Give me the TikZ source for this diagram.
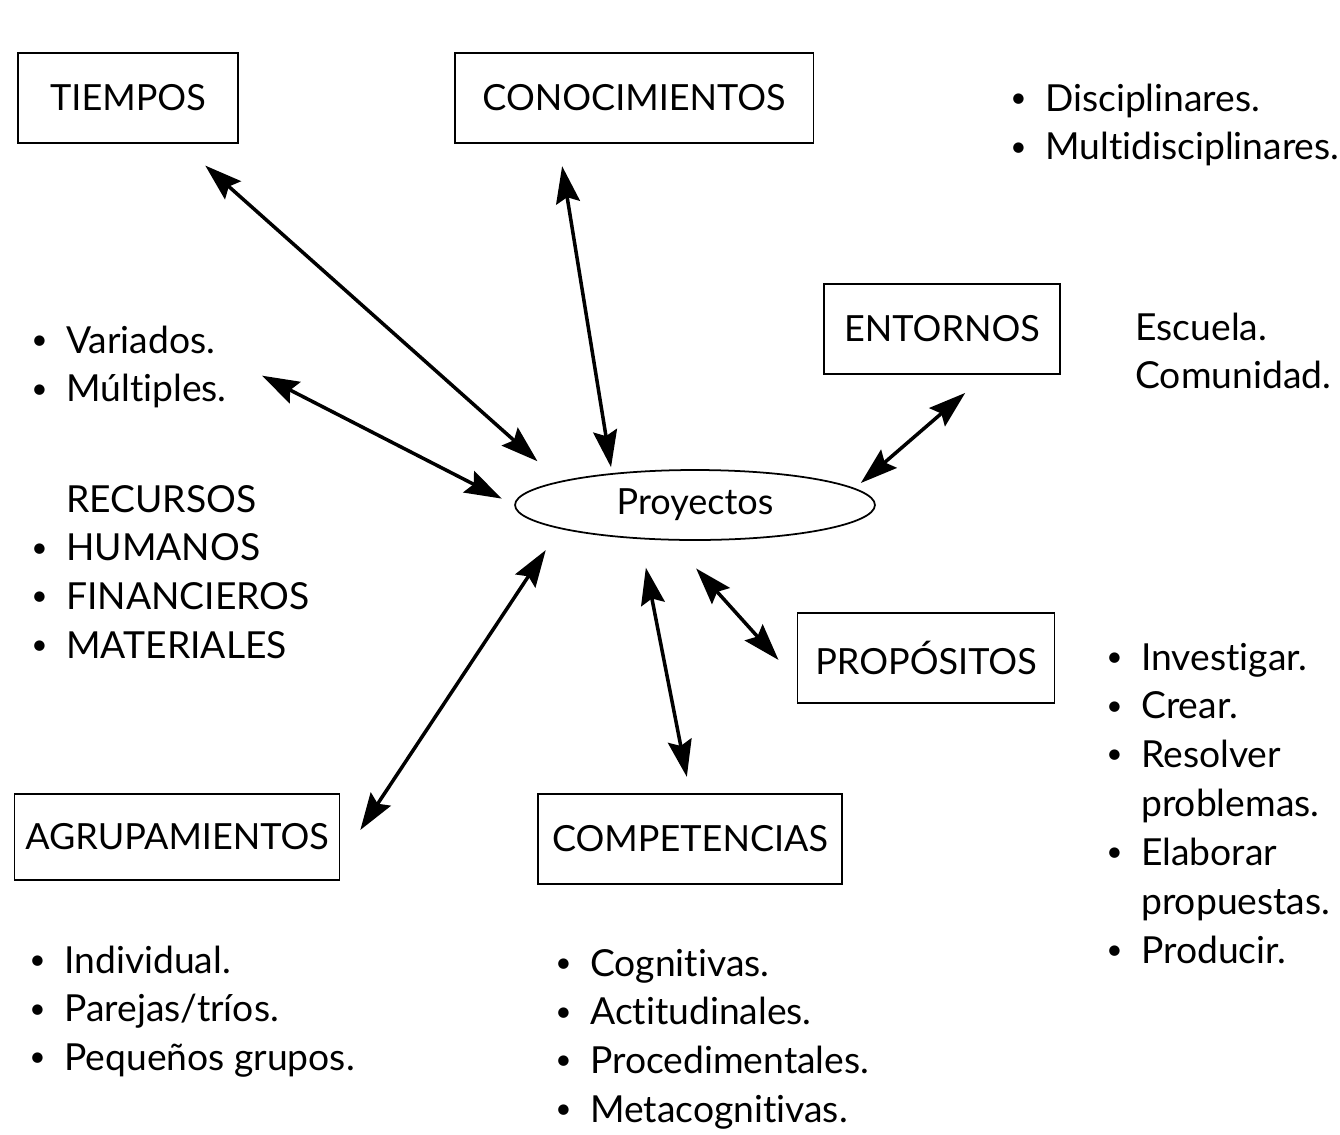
\documentclass[tikz,border=0pt]{standalone}
\usepackage{fontspec}
\setmainfont{Lato}[Ligatures=NoCommon]
\usetikzlibrary{arrows.meta,shapes.geometric}
\newcommand{\punto}{\raisebox{0.1em}{\fontsize{16}{16}\selectfont\textbullet}}

\begin{document}
\begin{tikzpicture}[x=0.02cm,y=-0.02cm,
  font=\fontsize{21.2}{27.8}\selectfont,
  caja/.style={draw,line width=1.1pt,minimum height=1.8cm,inner sep=0pt,font=\fontsize{20.5}{24}\selectfont},
  lista/.style={anchor=base west,inner sep=0pt},
  punta/.tip={Stealth[length=0.74cm,width=0.48cm,inset=0.11cm]},
  enlace/.style={punta-punta,line width=2pt}]
\useasboundingbox (0,0) rectangle (1340,1134);

\node[caja,minimum width=4.4cm] (tiempos) at (128,98) {TIEMPOS};
\node[caja,minimum width=7.18cm] (conoc) at (634,98) {CONOCIMIENTOS};
\node[caja,minimum width=4.72cm] (entornos) at (942,329) {ENTORNOS};
\node[caja,minimum width=5.14cm] (propositos) at (926,658) {PROPÓSITOS};
\node[caja,minimum width=6.08cm] (competencias) at (690,839) {COMPETENCIAS};
\node[caja,minimum width=6.5cm,minimum height=1.72cm] (agrup) at (177,837) {AGRUPAMIENTOS};
\node[draw,ellipse,line width=1pt,minimum width=7.2cm,minimum height=1.4cm,inner sep=0pt,font=\fontsize{20.5}{24}\selectfont] (proy) at (695,505) {Proyectos};

\node[lista] (disc) at (1010,111) {\begin{tabular}[t]{@{}l@{\hspace{0.5em}}l@{}}
  \punto & Disciplinares.\\
  \punto & Multidisciplinares.
\end{tabular}};
\node[lista] (variados) at (31,353) {\begin{tabular}[t]{@{}l@{\hspace{0.5em}}l@{}}
  \punto & Variados.\\
  \punto & Múltiples.
\end{tabular}};
\node[lista] (escuela) at (1135,340) {\begin{tabular}[t]{@{}l@{}}
  Escuela.\\
  Comunidad.
\end{tabular}};
\node[lista] (recursos) at (31,512) {\begin{tabular}[t]{@{}l@{\hspace{0.5em}}l@{}}
  & RECURSOS\\
  \punto & HUMANOS\\
  \punto & FINANCIEROS\\
  \punto & MATERIALES
\end{tabular}};
\node[lista] (objetivos) at (1106,670) {\begin{tabular}[t]{@{}l@{\hspace{0.5em}}l@{}}
  \punto & Investigar.\\
  \punto & Crear.\\
  \punto & Resolver\\
  & problemas.\\
  \punto & Elaborar\\
  & propuestas.\\
  \punto & Producir.
\end{tabular}};
\node[lista] (grupos) at (29,973) {\begin{tabular}[t]{@{}l@{\hspace{0.5em}}l@{}}
  \punto & Individual.\\
  \punto & Parejas/tríos.\\
  \punto & Pequeños grupos.
\end{tabular}};
\node[lista] (saberes) at (555,976) {\begin{tabular}[t]{@{}l@{\hspace{0.5em}}l@{}}
  \punto & Cognitivas.\\
  \punto & Actitudinales.\\
  \punto & Procedimentales.\\
  \punto & Metacognitivas.
\end{tabular}};

\draw[enlace,shorten <=0.65cm,shorten >=0.6cm] ([xshift=1.06cm]tiempos.south) -- (proy.170);
\draw[enlace,shorten <=0.45cm,shorten >=0.12cm] ([xshift=-1.51cm]conoc.south) -- (proy.159);
\draw[enlace,shorten <=0.79cm,shorten >=0.28cm] ([yshift=0.2cm]variados.east) -- (proy.west);
\draw[enlace,shorten <=0.55cm,shorten >=0.16cm] ([xshift=0.88cm]entornos.south) -- (proy.6);
\draw[enlace,shorten <=0.75cm,shorten >=0.54cm] (proy.236) -- ([yshift=-0.44cm]propositos.west);
\draw[enlace,shorten <=0.58cm,shorten >=0.33cm] (proy.212.5) -- (competencias.north);
\draw[enlace,shorten <=0.51cm,shorten >=0.72cm] (proy.190) -- ([yshift=-0.46cm]agrup.east);
\end{tikzpicture}
\end{document}
